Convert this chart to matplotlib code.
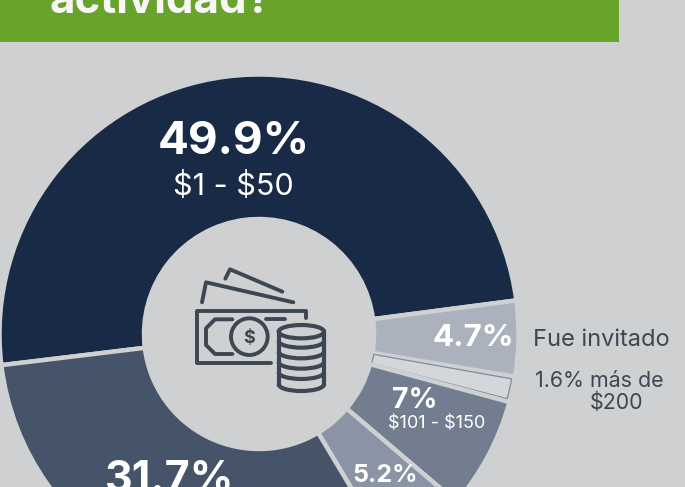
import numpy as np
import matplotlib
matplotlib.use("Agg")
import matplotlib.pyplot as plt
from matplotlib.patches import Rectangle, Circle, Ellipse, Arc

plt.rcParams['font.family'] = ['Inter', 'DejaVu Sans']

# data
categories = ["$1 - $50", "Fue invitado", "más de $200", "$101 - $150", "$151 - $200", "$51 - $100"]
values = [49.9, 4.7, 1.6, 7.0, 5.2, 31.7]
colors = ["#192a47", "#acb2bd", "#d4d6d9", "#727d8f", "#8b94a4", "#465469"]
title_tail = "actividad?"

BG = "#cfd0d2"
DARK = "#3d4753"
H = 487

fig = plt.figure(figsize=(6.85, 4.87), dpi=100, facecolor=BG)
ax = fig.add_axes([0, 0, 1, 1])

wedges, _ = ax.pie(values, colors=colors, startangle=186.9, counterclock=False,
                   center=(259, H - 334), radius=259.5,
                   wedgeprops=dict(width=144.5, edgecolor=BG, linewidth=3.2))
ax.set_xlim(0, 685)
ax.set_ylim(0, H)
ax.set_aspect('equal')
ax.axis('off')

# the 1.6 % slice is only outlined
w = wedges[2]
w.set_theta1(w.theta1 + 0.6)
w.set_theta2(w.theta2 - 0.6)
w.set_radius(256.5)
w.set_width(140)
w.set_edgecolor("#7f8ba0")
w.set_linewidth(0.9)

def T(x, y, s, size, color="white", weight="normal", ha="center", va="center", **kw):
    return ax.text(x, H - y, s, fontsize=size, color=color, fontweight=weight, ha=ha, va=va,
                   parse_math=False, **kw)

# header band
ax.add_patch(Rectangle((0, H - 42), 619, 42, fc="#68a32b", ec="none", zorder=1))
T(50, 13, title_tail, 31.5, color="#f7f7f7", weight="bold", ha="left", va="baseline", zorder=2)

# labels
T(234, 142, "49.9%", 33, weight="bold")
T(233.5, 187, categories[0], 22)
T(170, 480, "31.7%", 31, weight="bold")
T(385.5, 476, "5.2%", 18, weight="bold")
T(386, 497, categories[4], 13)
T(414.5, 401, "7%", 20.5, weight="bold")
T(437, 423, categories[3], 13)
T(473, 338, "4.7%", 22.5, weight="bold")
T(601.5, 340, categories[1], 17, color=DARK)
T(599.5, 381, "1.6% más de", 15.4, color=DARK)
T(617, 403, "$200", 15.4, color=DARK)

# money icon (picture coordinates of the icon)
def ix(x): return 170 + x / 3
def iy(y): return H - (250 + y / 3)
def L(pts):
    ax.plot([ix(p[0]) for p in pts], [iy(p[1]) for p in pts], color=DARK, lw=2.8,
            solid_capstyle='round', solid_joinstyle='round', zorder=5)

L([(407, 203), (407, 182), (81, 182), (81, 340), (304, 340)])
L([(187, 208), (135, 208), (108, 235), (108, 285), (135, 312), (187, 312)])
L([(289, 208), (344, 208)])
L([(96, 157), (108, 97), (370, 157)])
L([(166, 86), (180, 58), (337, 125)])
ax.add_patch(Circle((ix(238), iy(260)), 55 / 3, fc="none", ec=DARK, lw=2.8, zorder=5))
T(ix(238), 252 + 260 / 3, "$", 13, color=DARK, weight="bold", zorder=5)

cx, rx, ry = ix(394), 68 / 3, 20 / 3
top, bot = iy(245), iy(403)
ax.add_patch(Rectangle((cx - rx, bot), 2 * rx, top - bot, fc=BG, ec="none", zorder=4))
ax.plot([cx - rx, cx - rx], [bot, top], color=DARK, lw=3, zorder=5)
ax.plot([cx + rx, cx + rx], [bot, top], color=DARK, lw=3, zorder=5)
ax.add_patch(Ellipse((cx, top), 2 * rx, 2 * ry, fc="none", ec=DARK, lw=3, zorder=5))
for yy in (273, 305, 336, 367, 403):
    ax.add_patch(Arc((cx, iy(yy)), 2 * rx, 2 * ry, theta1=180, theta2=360, ec=DARK, lw=3, zorder=5))

fig.savefig("out.png", dpi=100, facecolor=BG)
